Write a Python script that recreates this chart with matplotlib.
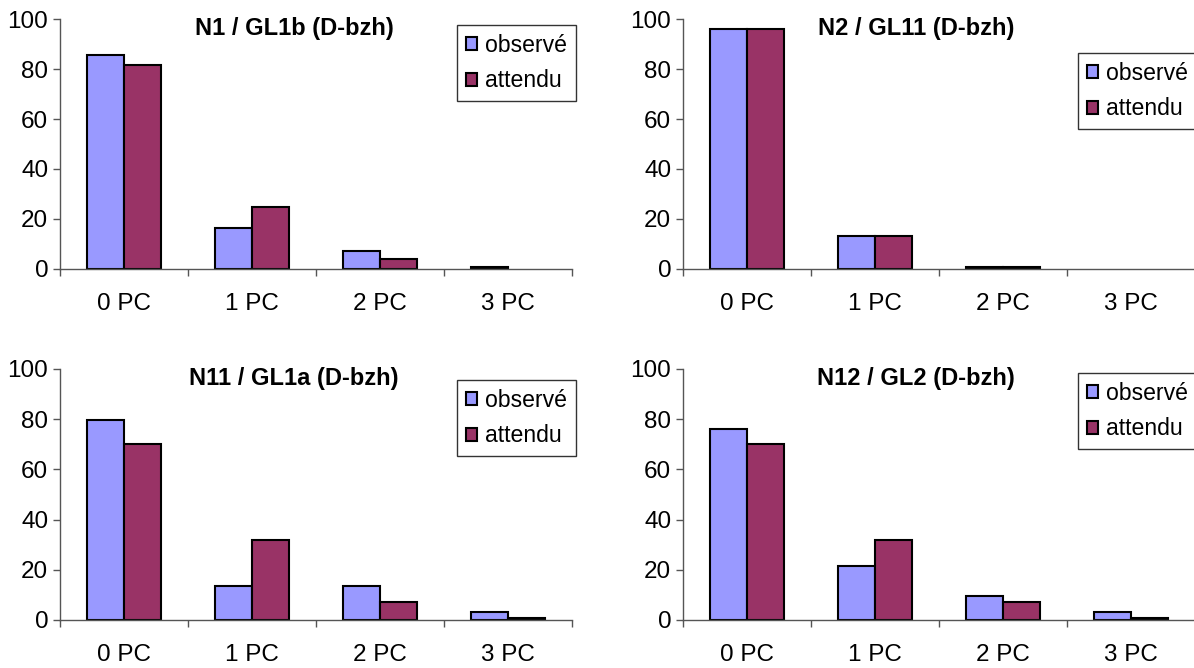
import matplotlib
matplotlib.use('Agg')
import matplotlib.pyplot as plt
from matplotlib.patches import Patch

plt.rcParams['font.family'] = ['Liberation Sans', 'DejaVu Sans']

# Data
categories = ['0 PC', '1 PC', '2 PC', '3 PC']
titles = ['N1 / GL1b (D-bzh)', 'N2 / GL11 (D-bzh)',
          'N11 / GL1a (D-bzh)', 'N12 / GL2 (D-bzh)']
observe = [
    [85.6, 16.5, 7.2, 0.8],
    [96.0, 13.3, 0.7, 0.0],
    [79.8, 13.6, 13.6, 3.1],
    [75.9, 21.5, 9.6, 3.1],
]
attendu = [
    [81.6, 24.7, 4.0, 0.0],
    [96.0, 13.3, 0.7, 0.0],
    [70.2, 31.9, 7.0, 0.7],
    [70.2, 31.9, 7.0, 0.7],
]
series_names = ['observé', 'attendu']
COL_OBS = '#9999FF'
COL_ATT = '#993366'
AXIS_COL = '#555555'

W, H = 1194, 668
fig = plt.figure(figsize=(W / 100, H / 100), dpi=100)

# axes boxes in pixels: (left, top, right, bottom)
boxes = [(60, 19, 572, 269), (683, 19, 1195, 269),
         (60, 369, 572, 620), (683, 369, 1195, 620)]
# legend boxes in pixels: (left, top)
legend_pos = [(457, 25), (1078, 53), (457, 380), (1078, 373)]
title_xy = [(294, 28), (916, 28), (294, 378), (916, 378)]

w = 1 / 3.5
for k in range(4):
    x0, y0, x1, y1 = boxes[k]
    ax = fig.add_axes([x0 / W, 1 - y1 / H, (x1 - x0) / W, (y1 - y0) / H])
    pos = list(range(len(categories)))
    for vals, col, off in [(observe[k], COL_OBS, -w / 2),
                           (attendu[k], COL_ATT, w / 2)]:
        lws = [1.5 if v > 0 else 0 for v in vals]
        ax.bar([p + off for p in pos], vals, width=w, color=col,
               edgecolor='black', linewidth=lws, zorder=3)
    ax.set_xlim(-0.5, len(categories) - 0.5)
    ax.set_ylim(0, 100)
    ax.set_yticks([0, 20, 40, 60, 80, 100])
    ax.set_xticks(pos)
    ax.set_xticklabels(categories)
    ax.set_xticks([p - 0.5 for p in range(len(categories) + 1)], minor=True)
    ax.tick_params(axis='x', which='major', length=0, pad=17, labelsize=17.5)
    ax.tick_params(axis='x', which='minor', length=5, width=1,
                   direction='out', color=AXIS_COL)
    ax.tick_params(axis='y', length=5, width=1, direction='out',
                   pad=3.5, labelsize=17.5, color=AXIS_COL)
    for s in ['top', 'right']:
        ax.spines[s].set_visible(False)
    for s in ['left', 'bottom']:
        ax.spines[s].set_color(AXIS_COL)
        ax.spines[s].set_linewidth(1)
    ax.spines['bottom'].set_zorder(4)

    tx, ty = title_xy[k]
    fig.text(tx / W, 1 - ty / H, titles[k], ha='center',
             va='center', fontsize=17, fontweight='bold')

    handles = [Patch(facecolor=COL_OBS, edgecolor='black', linewidth=1.5),
               Patch(facecolor=COL_ATT, edgecolor='black', linewidth=1.5)]
    lx, ly = legend_pos[k]
    leg = fig.legend(handles, series_names, loc='upper left',
                     bbox_to_anchor=(lx / W, 1 - ly / H), fontsize=16.6,
                     frameon=True, fancybox=False, borderpad=0.38,
                     handlelength=0.5, handleheight=0.5, handletextpad=0.35,
                     labelspacing=0.55, borderaxespad=0)
    leg.get_frame().set_edgecolor('black')
    leg.get_frame().set_linewidth(1)

fig.savefig('out.png', dpi=100)
